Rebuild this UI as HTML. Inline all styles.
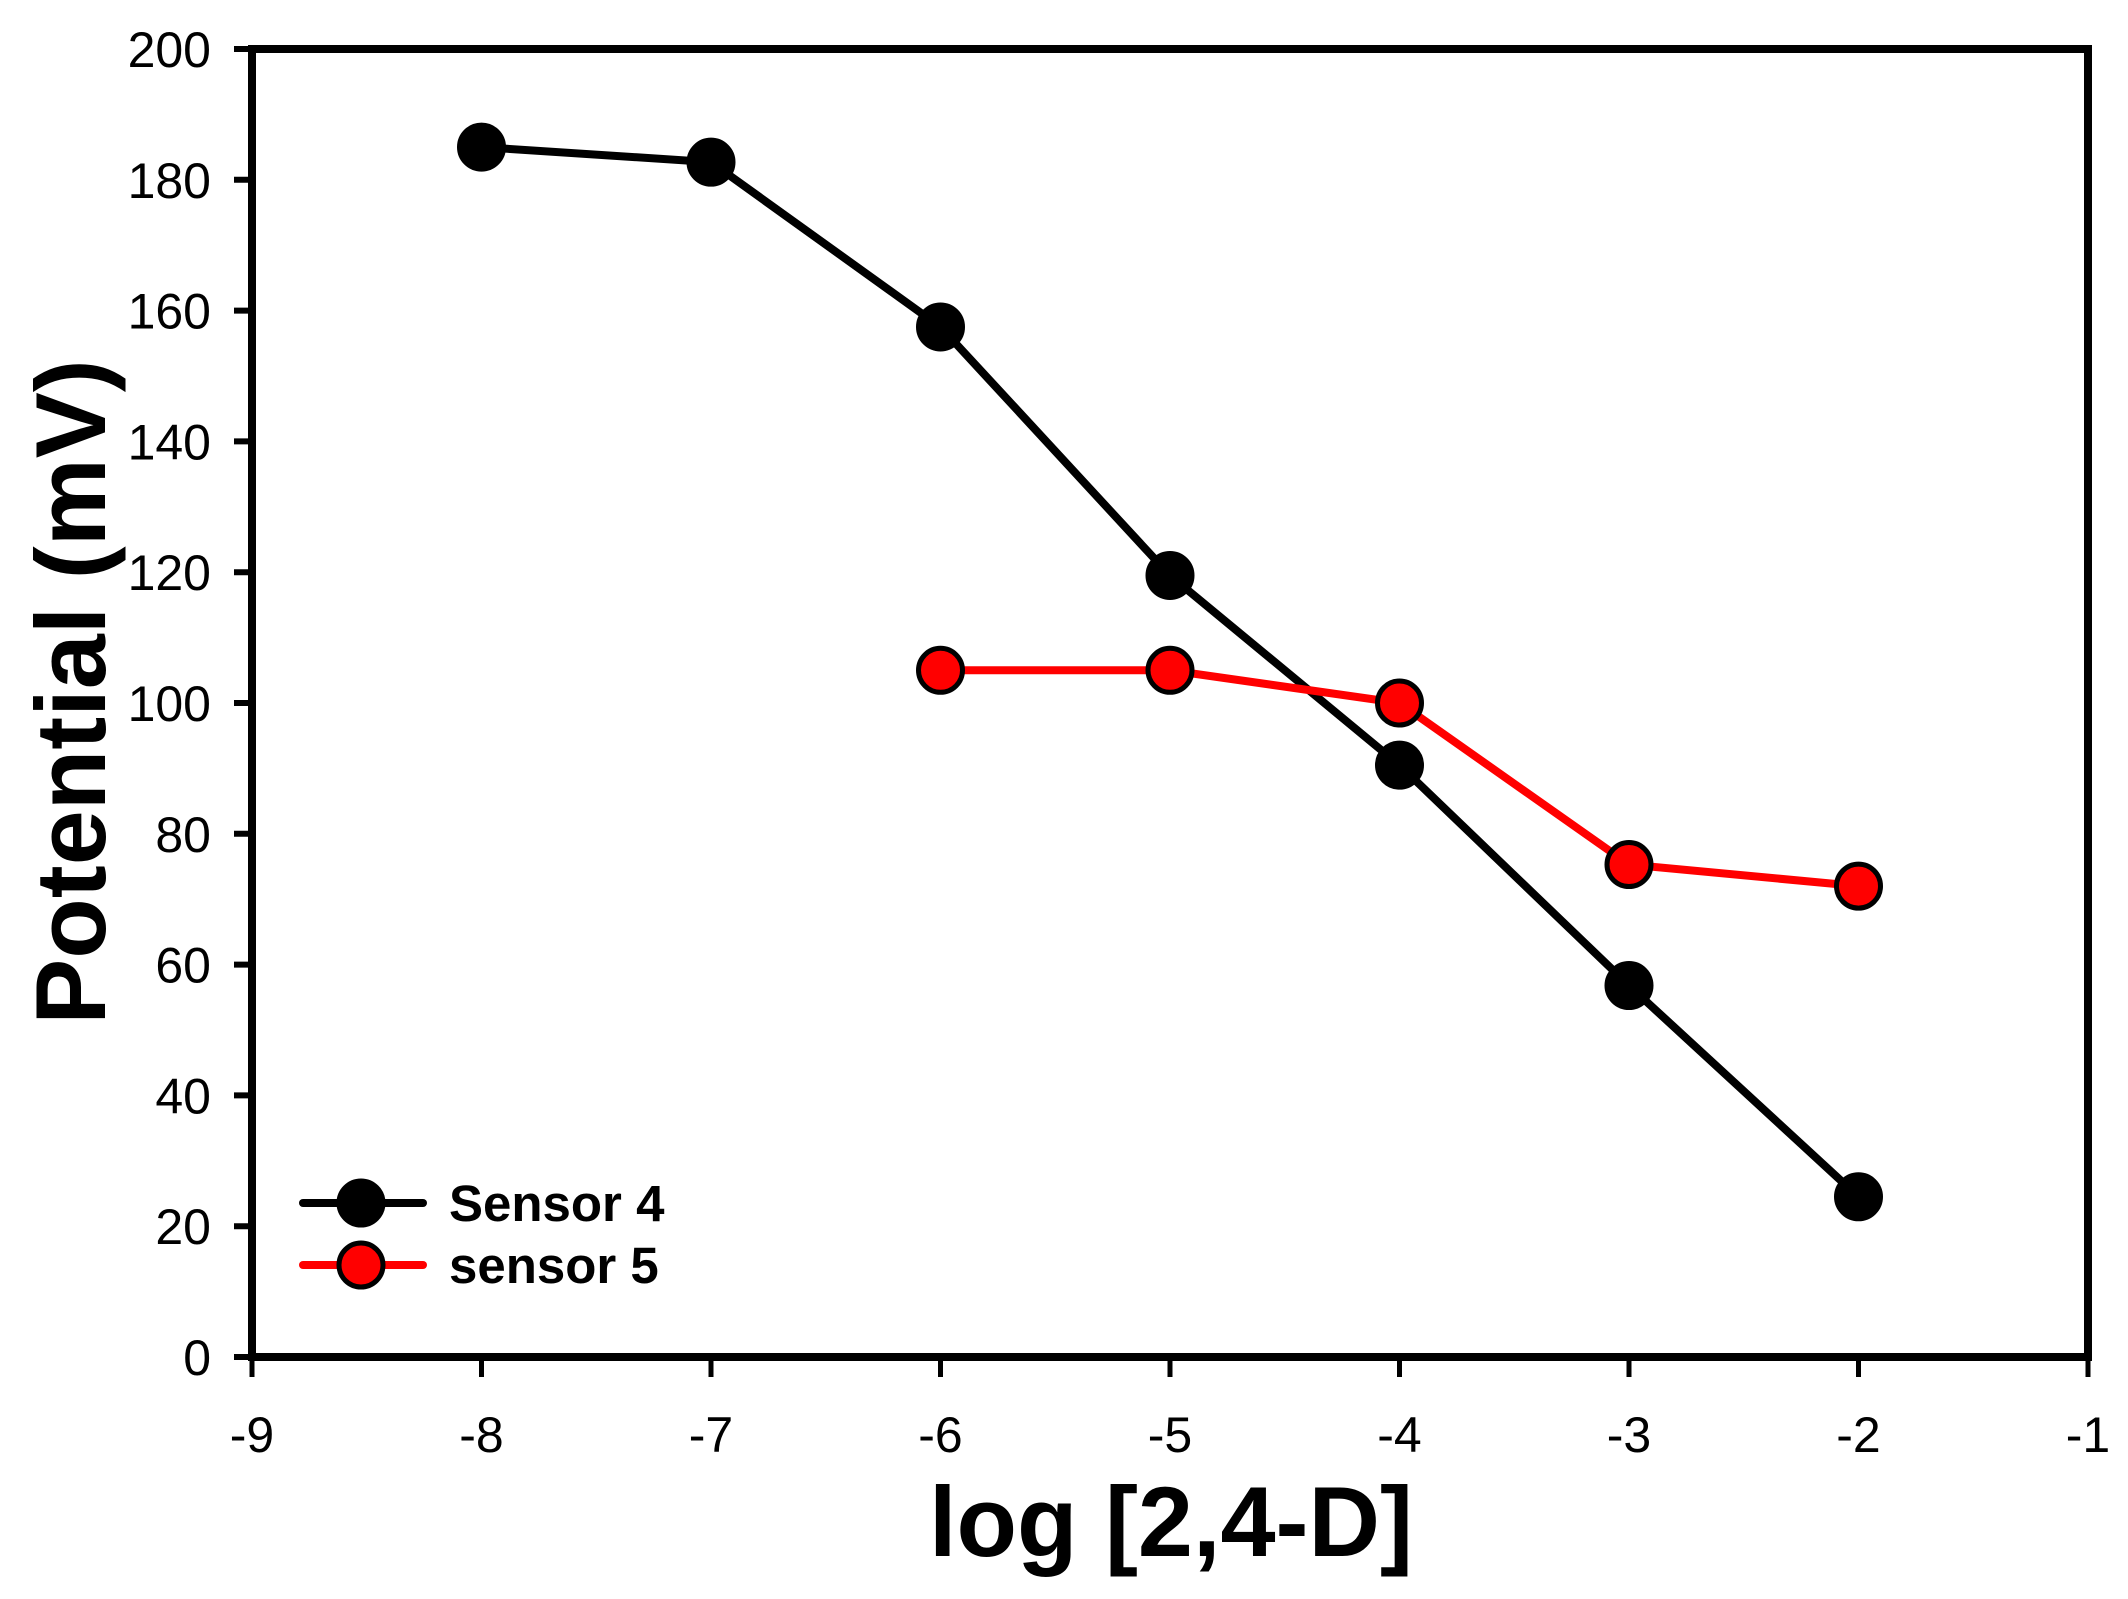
<!DOCTYPE html>
<html><head><meta charset="utf-8"><style>
html,body{margin:0;padding:0;background:#fff}
svg{display:block;font-family:"Liberation Sans",Arial,sans-serif}
</style></head><body>
<svg id="chart" width="2128" height="1599" viewBox="0 0 2128 1599" xmlns="http://www.w3.org/2000/svg">
<g id="axes"></g>
<g id="series"></g>
<g id="legend"></g>
</svg>
<script>
const xTicks = [-9,-8,-7,-6,-5,-4,-3,-2,-1];
const yTicks = [0,20,40,60,80,100,120,140,160,180,200];
const s4x = [-8,-7,-6,-5,-4,-3,-2];
const s4y = [185,182.7,157.5,119.5,90.5,56.8,24.5];
const s5x = [-6,-5,-4,-3,-2];
const s5y = [105,105,100,75.3,72];

const NS="http://www.w3.org/2000/svg";
const L=252,R=2088,T=49,B=1357;
function sx(v){return L+(v-(-9))/8*(R-L);}
function sy(v){return B-v/200*(B-T);}
function mk(tag,attrs,parent){const e=document.createElementNS(NS,tag);for(const k in attrs)e.setAttribute(k,attrs[k]);parent.appendChild(e);return e;}
const axes=document.getElementById('axes'),series=document.getElementById('series'),legend=document.getElementById('legend');

let fr=mk('rect',{x:L,y:T,width:R-L,height:B-T,fill:'none',stroke:'#000','stroke-width':8},axes);


yTicks.forEach(v=>{
  let t=mk('line',{x1:L-18,x2:L,y1:sy(v),y2:sy(v),stroke:'#000','stroke-width':6},axes);
  
  
  let tx=mk('text',{x:211,y:sy(v)+18,'text-anchor':'end','font-size':50},axes);
  tx.textContent=v;
  
  
});
xTicks.forEach(v=>{
  let t=mk('line',{x1:sx(v),x2:sx(v),y1:B,y2:B+20,stroke:'#000','stroke-width':5},axes);
  
  
  let tx=mk('text',{x:sx(v),y:1452,'text-anchor':'middle','font-size':50},axes);
  tx.textContent=v;
  
  
});
let xt=mk('text',{x:1171,y:1556,'text-anchor':'middle','font-size':99,'font-weight':'bold'},axes);
xt.textContent='log [2,4-D]';


let yt=mk('text',{x:0,y:0,'text-anchor':'middle','font-size':99,'font-weight':'bold',transform:'translate(105,692) rotate(-90)'},axes);
yt.textContent='Potential (mV)';



function drawSeries(xs,ys,color,name){
  const g=mk('g',{},series);
  
  
  const pts=xs.map((x,i)=>sx(x)+','+sy(ys[i])).join(' ');
  let pl=mk('polyline',{points:pts,fill:'none',stroke:color,'stroke-width':8},g);
  
  
  xs.forEach((x,i)=>{
    let c=mk('circle',{cx:sx(x),cy:sy(ys[i]),r:22,fill:color,stroke:'#000','stroke-width':5},g);
    
    
  });
}
drawSeries(s4x,s4y,'#000','sensor-4');
drawSeries(s5x,s5y,'#ff0000','sensor-5');

function legEntry(y,color,label,name){
  const g=mk('g',{},legend);
  
  
  mk('line',{x1:303,x2:423,y1:y,y2:y,stroke:color,'stroke-width':8,'stroke-linecap':'round'},g);
  mk('circle',{cx:361,cy:y,r:22,fill:color,stroke:'#000','stroke-width':5},g);
  let t=mk('text',{x:449,y:y+18,'font-size':51,'font-weight':'bold'},g);
  t.textContent=label;
}
legEntry(1203,'#000','Sensor 4','legend-entry-sensor-4');
legEntry(1265,'#ff0000','sensor 5','legend-entry-sensor-5');
</script>
</body></html>
